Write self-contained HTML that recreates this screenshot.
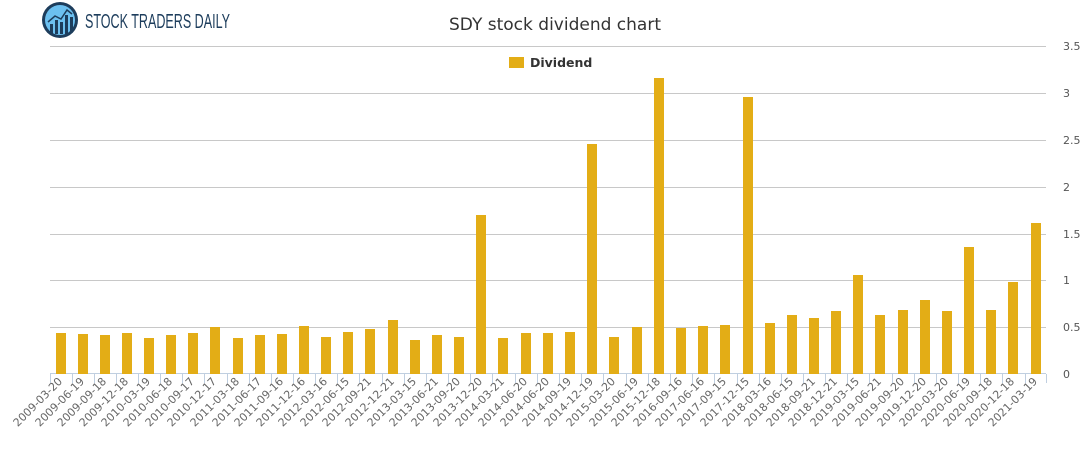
<!DOCTYPE html>
<html><head><meta charset="utf-8"><style>
body{margin:0;background:#fff;width:1091px;height:450px;overflow:hidden;font-family:"DejaVu Sans","Liberation Sans",sans-serif}
</style></head><body>
<svg width="1091" height="450" xmlns="http://www.w3.org/2000/svg" font-family="DejaVu Sans, Liberation Sans, sans-serif">
<g stroke="#c8c8c8" stroke-width="1">
<line x1="50" x2="1046" y1="46.5" y2="46.5"/><line x1="50" x2="1046" y1="93.5" y2="93.5"/>
<line x1="50" x2="1046" y1="140.5" y2="140.5"/><line x1="50" x2="1046" y1="187.5" y2="187.5"/>
<line x1="50" x2="1046" y1="234.5" y2="234.5"/><line x1="50" x2="1046" y1="280.5" y2="280.5"/>
<line x1="50" x2="1046" y1="327.5" y2="327.5"/>
</g>
<line x1="50" x2="1046" y1="373.5" y2="373.5" stroke="#c0cfe0"/>
<g stroke="#c0cfe0" stroke-width="1">
<path d="M50.5 374v9M72.5 374v9M94.5 374v9M116.5 374v9M138.5 374v9M160.5 374v9M182.5 374v9M204.5 374v9M227.5 374v9M249.5 374v9M271.5 374v9M293.5 374v9M315.5 374v9M337.5 374v9M359.5 374v9M382.5 374v9M404.5 374v9M426.5 374v9M448.5 374v9M470.5 374v9M492.5 374v9M515.5 374v9M537.5 374v9M559.5 374v9M581.5 374v9M603.5 374v9M626.5 374v9M648.5 374v9M670.5 374v9M692.5 374v9M714.5 374v9M737.5 374v9M759.5 374v9M781.5 374v9M803.5 374v9M825.5 374v9M847.5 374v9M869.5 374v9M892.5 374v9M914.5 374v9M936.5 374v9M958.5 374v9M980.5 374v9M1002.5 374v9M1025.5 374v9M1046.5 374v9"/>
</g>
<g font-size="11" fill="#555">
<text x="1063" y="50">3.5</text><text x="1063" y="97">3</text><text x="1063" y="144">2.5</text>
<text x="1063" y="191">2</text><text x="1063" y="238">1.5</text><text x="1063" y="284">1</text>
<text x="1063" y="331">0.5</text><text x="1063" y="378">0</text>
</g>
<text x="555" y="30" text-anchor="middle" font-size="17" fill="#333">SDY stock dividend chart</text>
<rect x="509" y="57" width="15" height="11" fill="#e3ad16"/>
<text x="530" y="67" font-size="12.5" font-weight="bold" fill="#333">Dividend</text>
<circle cx="60" cy="20" r="18" fill="#1d3d5c"/><circle cx="60" cy="20" r="15" fill="#6cc0f0"/>
<g fill="#1d3d5c"><rect x="50" y="24" width="3" height="10"/><rect x="55" y="20" width="3" height="14"/><rect x="60" y="22" width="3" height="12"/><rect x="65" y="15" width="3" height="19"/><rect x="70" y="17" width="3" height="15"/></g>
<polyline points="48,22 55,16 61,19 67,10 72,14" fill="none" stroke="#1d3d5c" stroke-width="1.5"/>
<text x="85" y="28" font-family="Liberation Sans Narrow, Liberation Sans, sans-serif" font-size="20" fill="#1d3d5c" textLength="145" lengthAdjust="spacingAndGlyphs">STOCK TRADERS DAILY</text>
<g fill="#e3ad16">
<rect x="56" y="333" width="10" height="41"/><rect x="78" y="334" width="10" height="40"/><rect x="100" y="335" width="10" height="39"/><rect x="122" y="333" width="10" height="41"/><rect x="144" y="338" width="10" height="36"/>
<rect x="166" y="335" width="10" height="39"/><rect x="188" y="333" width="10" height="41"/><rect x="210" y="327" width="10" height="47"/><rect x="233" y="338" width="10" height="36"/><rect x="255" y="335" width="10" height="39"/>
<rect x="277" y="334" width="10" height="40"/><rect x="299" y="326" width="10" height="48"/><rect x="321" y="337" width="10" height="37"/><rect x="343" y="332" width="10" height="42"/><rect x="365" y="329" width="10" height="45"/>
<rect x="388" y="320" width="10" height="54"/><rect x="410" y="340" width="10" height="34"/><rect x="432" y="335" width="10" height="39"/><rect x="454" y="337" width="10" height="37"/><rect x="476" y="215" width="10" height="159"/>
<rect x="498" y="338" width="10" height="36"/><rect x="521" y="333" width="10" height="41"/><rect x="543" y="333" width="10" height="41"/><rect x="565" y="332" width="10" height="42"/><rect x="587" y="144" width="10" height="230"/>
<rect x="609" y="337" width="10" height="37"/><rect x="632" y="327" width="10" height="47"/><rect x="654" y="78" width="10" height="296"/><rect x="676" y="328" width="10" height="46"/><rect x="698" y="326" width="10" height="48"/>
<rect x="720" y="325" width="10" height="49"/><rect x="743" y="97" width="10" height="277"/><rect x="765" y="323" width="10" height="51"/><rect x="787" y="315" width="10" height="59"/><rect x="809" y="318" width="10" height="56"/>
<rect x="831" y="311" width="10" height="63"/><rect x="853" y="275" width="10" height="99"/><rect x="875" y="315" width="10" height="59"/><rect x="898" y="310" width="10" height="64"/><rect x="920" y="300" width="10" height="74"/>
<rect x="942" y="311" width="10" height="63"/><rect x="964" y="247" width="10" height="127"/><rect x="986" y="310" width="10" height="64"/><rect x="1008" y="282" width="10" height="92"/><rect x="1031" y="223" width="10" height="151"/>
</g>
<g font-size="11" fill="#666" text-anchor="end">
<text transform="translate(63,382) rotate(-45)">2009-03-20</text>
<text transform="translate(85,382) rotate(-45)">2009-06-19</text>
<text transform="translate(107,382) rotate(-45)">2009-09-18</text>
<text transform="translate(129,382) rotate(-45)">2009-12-18</text>
<text transform="translate(151,382) rotate(-45)">2010-03-19</text>
<text transform="translate(173,382) rotate(-45)">2010-06-18</text>
<text transform="translate(195,382) rotate(-45)">2010-09-17</text>
<text transform="translate(217,382) rotate(-45)">2010-12-17</text>
<text transform="translate(240,382) rotate(-45)">2011-03-18</text>
<text transform="translate(262,382) rotate(-45)">2011-06-17</text>
<text transform="translate(284,382) rotate(-45)">2011-09-16</text>
<text transform="translate(306,382) rotate(-45)">2011-12-16</text>
<text transform="translate(328,382) rotate(-45)">2012-03-16</text>
<text transform="translate(350,382) rotate(-45)">2012-06-15</text>
<text transform="translate(372,382) rotate(-45)">2012-09-21</text>
<text transform="translate(395,382) rotate(-45)">2012-12-21</text>
<text transform="translate(417,382) rotate(-45)">2013-03-15</text>
<text transform="translate(439,382) rotate(-45)">2013-06-21</text>
<text transform="translate(461,382) rotate(-45)">2013-09-20</text>
<text transform="translate(483,382) rotate(-45)">2013-12-20</text>
<text transform="translate(505,382) rotate(-45)">2014-03-21</text>
<text transform="translate(528,382) rotate(-45)">2014-06-20</text>
<text transform="translate(550,382) rotate(-45)">2014-06-20</text>
<text transform="translate(572,382) rotate(-45)">2014-09-19</text>
<text transform="translate(594,382) rotate(-45)">2014-12-19</text>
<text transform="translate(616,382) rotate(-45)">2015-03-20</text>
<text transform="translate(639,382) rotate(-45)">2015-06-19</text>
<text transform="translate(661,382) rotate(-45)">2015-12-18</text>
<text transform="translate(683,382) rotate(-45)">2016-09-16</text>
<text transform="translate(705,382) rotate(-45)">2017-06-16</text>
<text transform="translate(727,382) rotate(-45)">2017-09-15</text>
<text transform="translate(750,382) rotate(-45)">2017-12-15</text>
<text transform="translate(772,382) rotate(-45)">2018-03-16</text>
<text transform="translate(794,382) rotate(-45)">2018-06-15</text>
<text transform="translate(816,382) rotate(-45)">2018-09-21</text>
<text transform="translate(838,382) rotate(-45)">2018-12-21</text>
<text transform="translate(860,382) rotate(-45)">2019-03-15</text>
<text transform="translate(882,382) rotate(-45)">2019-06-21</text>
<text transform="translate(905,382) rotate(-45)">2019-09-20</text>
<text transform="translate(927,382) rotate(-45)">2019-12-20</text>
<text transform="translate(949,382) rotate(-45)">2020-03-20</text>
<text transform="translate(971,382) rotate(-45)">2020-06-19</text>
<text transform="translate(993,382) rotate(-45)">2020-09-18</text>
<text transform="translate(1015,382) rotate(-45)">2020-12-18</text>
<text transform="translate(1038,382) rotate(-45)">2021-03-19</text>
</g>
</svg>
</body></html>
